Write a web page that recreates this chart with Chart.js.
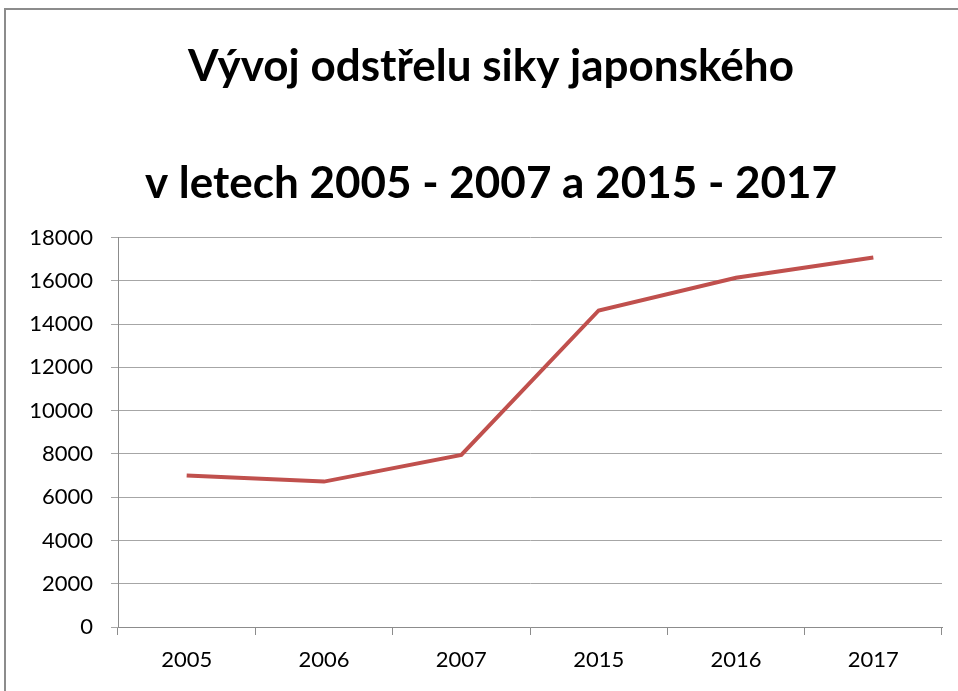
<!DOCTYPE html>
<html>
<head>
<meta charset="utf-8">
<script src="https://cdn.jsdelivr.net/npm/chart.js@4"></script>
<style>
  html, body { margin: 0; padding: 0; background: #fff; }
  #wrap { position: relative; width: 958px; height: 691px; }
  #frame { position: absolute; left: 4px; top: 8px; right: -10px; bottom: -10px;
           border-left: 2px solid #8c8c8c; border-top: 2px solid #8c8c8c; }
  canvas { position: absolute; left: 0; top: 0; }
</style>
</head>
<body>
<div id="wrap">
  <div id="frame"></div>
  <canvas id="chart" width="958" height="691"></canvas>
</div>
<script>
// Data
const years = ["2005", "2006", "2007", "2015", "2016", "2017"];
const culled = [7000, 6720, 7950, 14630, 16140, 17080];
const titleLines = ["Vývoj odstřelu siky japonského", "", "v letech 2005 - 2007 a 2015 - 2017"];

// the original title sits a bit right of the canvas centre
const shiftTitle = {
  id: "shiftTitle",
  afterLayout(chart) {
    if (chart.titleBlock) chart.titleBlock.left = 40;
  }
};

const ctx = document.getElementById("chart").getContext("2d");

new Chart(ctx, {
  type: "line",
  data: {
    labels: years,
    datasets: [{
      data: culled,
      borderColor: "#c0504d",
      borderWidth: 4,
      pointRadius: 0,
      tension: 0,
      fill: false
    }]
  },
  options: {
    responsive: false,
    animation: false,
    layout: { padding: { top: 38, right: 16, left: 0, bottom: 0 } },
    scales: {
      x: {
        offset: true,
        afterFit: s => { s.height = 64; },
        grid: {
          offset: true,
          drawOnChartArea: false,
          tickLength: 8,
          color: "#8c8c8c"
        },
        border: { color: "#8c8c8c" },
        ticks: {
          padding: 12,
          color: "#000",
          font: { size: 22, family: "Lato" }
        }
      },
      y: {
        min: 0,
        max: 18000,
        afterFit: s => { s.width = 118; },
        grid: {
          color: "#a6a6a6",
          tickLength: 7
        },
        border: { color: "#8c8c8c" },
        ticks: {
          stepSize: 2000,
          padding: 18,
          color: "#000",
          font: { size: 22, family: "Lato" },
          callback: v => String(v)
        }
      }
    },
    plugins: {
      legend: { display: false },
      tooltip: { enabled: false },
      title: {
        display: true,
        text: titleLines,
        color: "#000",
        font: { size: 44, family: "Lato", weight: "bold", lineHeight: 1.33 },
        padding: { top: 0, bottom: 24 }
      }
    }
  },
  plugins: [shiftTitle]
});
</script>
</body>
</html>
